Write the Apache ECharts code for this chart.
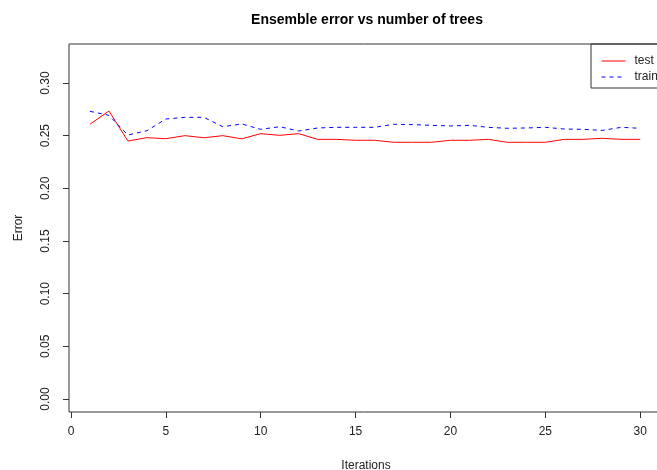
<!DOCTYPE html>
<html>
<head>
<meta charset="utf-8">
<script src="https://cdn.jsdelivr.net/npm/echarts@6/dist/echarts.min.js"></script>
<style>
  html, body { margin: 0; padding: 0; background: #fff; }
  #chart { width: 657px; height: 470px; }
</style>
</head>
<body>
<div id="chart"></div>
<script>
// values
const iterations = [1, 2, 3, 4, 5, 6, 7, 8, 9, 10, 11, 12, 13, 14, 15,
  16, 17, 18, 19, 20, 21, 22, 23, 24, 25, 26, 27, 28, 29, 30]

const testError = [0.2608, 0.2734, 0.2449, 0.2481, 0.2471, 0.2500, 0.2480, 0.2500, 0.2470, 0.2519,
  0.2503, 0.2519, 0.2465, 0.2465, 0.2456, 0.2456, 0.2437, 0.2437, 0.2437, 0.2456,
  0.2456, 0.2465, 0.2437, 0.2437, 0.2437, 0.2465, 0.2465, 0.2475, 0.2465, 0.2465]

const trainError = [0.2731, 0.2693, 0.2506, 0.2547, 0.2658, 0.2674, 0.2674, 0.2585, 0.2611, 0.2560,
  0.2585, 0.2544, 0.2573, 0.2579, 0.2579, 0.2579, 0.2608, 0.2605, 0.2598, 0.2592,
  0.2598, 0.2579, 0.2570, 0.2573, 0.2579, 0.2563, 0.2560, 0.2550, 0.2579, 0.2570]

const xTicks = [0, 5, 10, 15, 20, 25, 30]
const yTicks = [0, 0.05, 0.10, 0.15, 0.20, 0.25, 0.30]

const FONT = 'Liberation Sans, Arial, sans-serif'
const INK = '#222'

const toPairs = (ys) => iterations.map((x, i) => [x, ys[i]])

const chart = echarts.init(document.getElementById('chart'), null, { renderer: 'canvas' })

chart.setOption({
  animation: false,
  title: {
    text: 'Ensemble error vs number of trees',
    left: 362,
    top: 8,
    textAlign: 'center',
    textStyle: { fontFamily: FONT, fontSize: 14, fontWeight: 'bold', color: '#000' }
  },
  legend: {
    orient: 'vertical',
    left: 591,
    top: 44,
    padding: [11, 10, 5, 10],
    itemWidth: 24,
    itemHeight: 12,
    itemGap: 4,
    borderColor: '#333',
    borderWidth: 1,
    borderRadius: 0,
    itemStyle: { color: 'transparent', borderWidth: 0 },
    lineStyle: { width: 1 },
    textStyle: { fontFamily: FONT, fontSize: 12, color: INK, padding: [0, 0, 0, 4] },
    data: ['test', 'train']
  },
  grid: {
    left: 69,
    top: 44,
    width: 594,
    bottom: 58,
    show: true,
    borderColor: '#333',
    borderWidth: 1,
    containLabel: false,
    outerBoundsMode: 'none'
  },
  xAxis: {
    type: 'value',
    min: -0.1054,
    max: 31.2,
    name: 'Iterations',
    nameLocation: 'middle',
    nameGap: 48,
    nameTextStyle: { fontFamily: FONT, fontSize: 12, color: INK },
    splitLine: { show: false },
    axisLine: { show: false, onZero: false },
    axisTick: { show: true, length: 6, lineStyle: { color: '#333' }, customValues: xTicks },
    axisLabel: {
      fontFamily: FONT, fontSize: 12, color: INK, margin: 14,
      customValues: xTicks
    }
  },
  yAxis: {
    type: 'value',
    min: -0.0123,
    max: 0.337,
    name: 'Error',
    nameLocation: 'middle',
    nameGap: 44,
    nameTextStyle: { fontFamily: FONT, fontSize: 12, color: INK },
    splitLine: { show: false },
    axisLine: { show: false, onZero: false },
    axisTick: { show: true, length: 6, lineStyle: { color: '#333' }, customValues: yTicks },
    axisLabel: {
      fontFamily: FONT, fontSize: 12, color: INK, margin: 17, rotate: 90,
      customValues: yTicks,
      formatter: (v) => v.toFixed(2)
    }
  },
  series: [
    {
      name: 'test',
      type: 'line',
      data: toPairs(testError),
      symbol: 'none',
      itemStyle: { color: '#ff0000' },
      lineStyle: { color: '#ff0000', width: 1 }
    },
    {
      name: 'train',
      type: 'line',
      data: toPairs(trainError),
      symbol: 'none',
      itemStyle: { color: '#0000ff' },
      lineStyle: { color: '#0000ff', width: 1, type: [4, 4] }
    }
  ]
})
</script>
</body>
</html>
